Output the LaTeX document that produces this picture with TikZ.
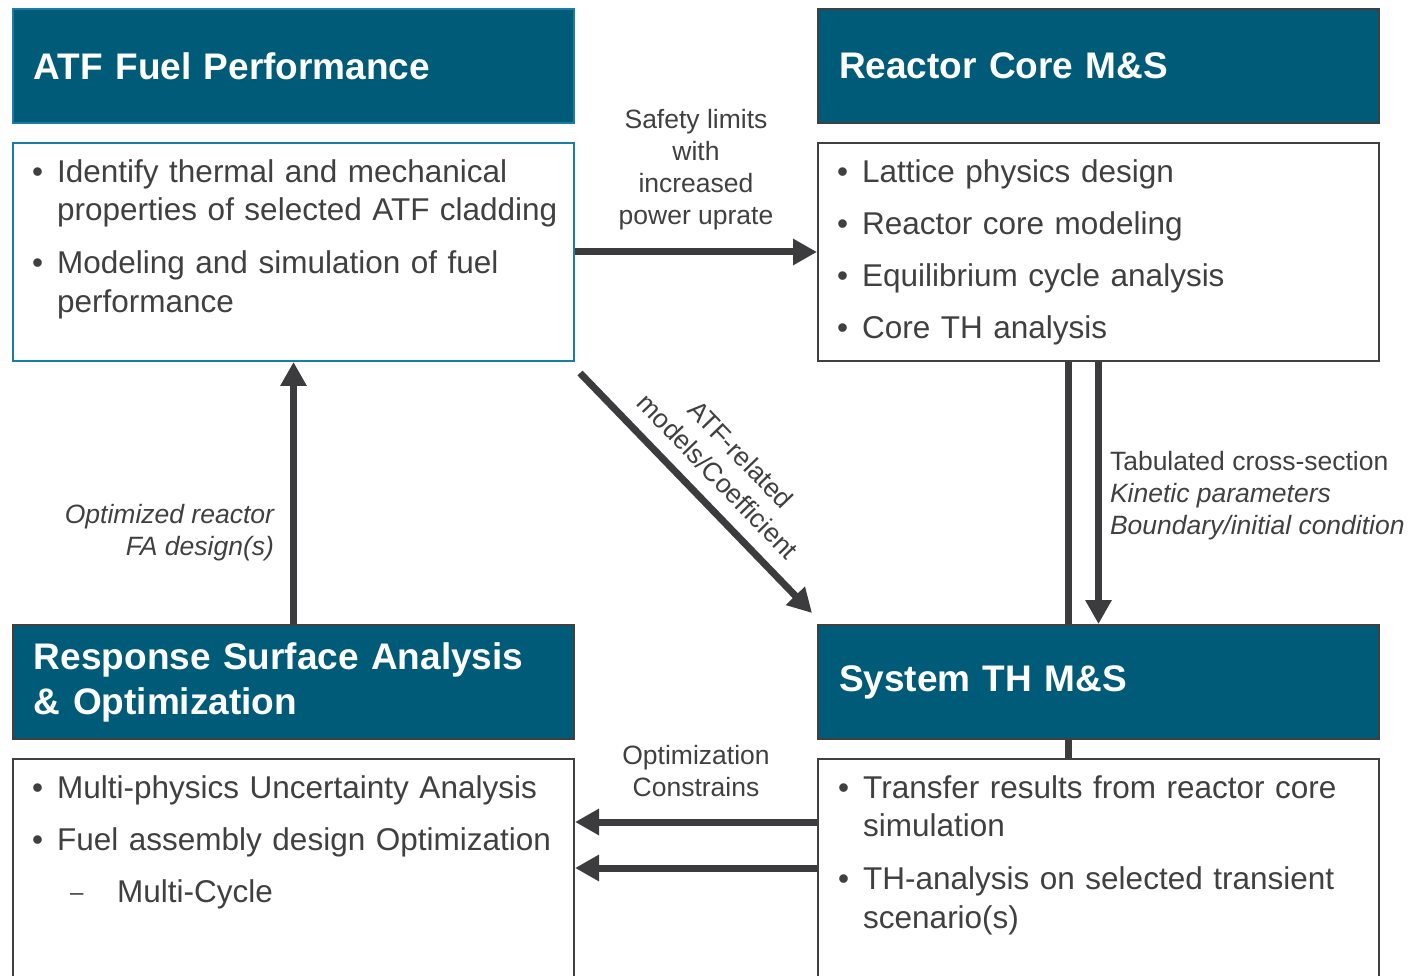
\documentclass[tikz,border=0pt]{standalone}
\usepackage{fontspec}
\setmainfont{Liberation Sans}
\usetikzlibrary{positioning,arrows.meta,backgrounds}
\definecolor{hdrblue}{RGB}{0,91,120}
\definecolor{atfedge}{RGB}{25,125,165}
\definecolor{edgegray}{RGB}{64,64,64}
\definecolor{txtgray}{RGB}{64,64,64}
\definecolor{arrowgray}{RGB}{60,60,62}
\newcommand{\bitem}[1]{\noindent\makebox[25pt][l]{\textbullet}\parbox[t]{520pt}{\strut#1\strut}\par}
\newcommand{\ditem}[1]{\noindent\hspace*{38pt}\makebox[47pt][l]{\raisebox{2pt}{\fontsize{24}{24}\selectfont –}}\strut#1\strut\par}
\newcommand{\bgap}{\vspace{13.5pt}}
\tikzset{
	hdr/.style={draw=edgegray, line width=2pt, fill=hdrblue, text=white, anchor=north west, minimum width=561pt, minimum height=114pt, text width=519pt, inner xsep=21pt, align=left, font=\fontsize{37}{45}\selectfont\bfseries},
	bodybox/.style={draw=edgegray, line width=2pt, fill=white, minimum width=561pt, minimum height=#1, inner sep=0pt},
	bodybox/.default=218pt,
	bodytxt/.style={anchor=north west, inner sep=0pt, text width=545pt, align=left, text=txtgray, font=\fontsize{31.5}{38.5}\selectfont},
	lbl/.style={text=txtgray, inner sep=0pt, align=center, font=\fontsize{26.5}{32}\selectfont},
	flow/.style={draw=arrowgray, line width=7pt, -{Triangle[length=24pt,width=25pt]}},
	link/.style={draw=arrowgray, line width=7pt}
}
\begin{document}
\begin{tikzpicture}[x=1pt, y=-1pt]
	\useasboundingbox (0,0) rectangle (1409,976);
	\clip (0,0) rectangle (1409,976);
	% headers
	\node[hdr, draw=atfedge] (atfhdr) at (12,8) {ATF Fuel Performance};
	\node[hdr] (corehdr) at (817,8) {Reactor Core M\&S};
	\node[hdr] (rsahdr) at (12,624) {Response Surface Analysis\\\& Optimization};
	\node[hdr] (syshdr) at (817,624) {System TH M\&S};
	% bodies
	\node[bodybox, draw=atfedge, below=18pt of atfhdr] (atfbody) {};
	\node[bodybox, below=18pt of corehdr] (corebody) {};
	\node[bodybox=240pt, below=18pt of rsahdr] (rsabody) {};
	\node[bodybox=240pt, below=18pt of syshdr] (sysbody) {};
	\node[bodytxt] (atftxt) at ([shift={(20pt,-13pt)}]atfbody.north west) {%
		\bitem{Identify thermal and mechanical\newline properties of selected ATF cladding}\bgap
		\bitem{Modeling and simulation of fuel\newline performance}};
	\node[bodytxt] (coretxt) at ([shift={(20pt,-13pt)}]corebody.north west) {%
		\bitem{Lattice physics design}\bgap
		\bitem{Reactor core modeling}\bgap
		\bitem{Equilibrium cycle analysis}\bgap
		\bitem{Core TH analysis}};
	\node[bodytxt] (rsatxt) at ([shift={(20pt,-13pt)}]rsabody.north west) {%
		\bitem{Multi-physics Uncertainty Analysis}\bgap
		\bitem{Fuel assembly design Optimization}\bgap
		\ditem{Multi-Cycle}};
	\node[bodytxt] (systxt) at ([shift={(21pt,-13pt)}]sysbody.north west) {%
		\bitem{Transfer results from reactor core\newline simulation}\bgap
		\bitem{TH-analysis on selected transient\newline scenario(s)}};
	% connectors
	\begin{pgfonlayer}{background}
		\draw[link] ([xshift=-30pt]corebody.south) -- ([xshift=-30pt]sysbody.north);
	\end{pgfonlayer}
	\draw[flow] (atfbody.east) -- (corebody.west)
		node[midway, above=18pt, lbl] {Safety limits\\with\\increased\\power uprate};
	\draw[flow] ([shift={(5pt,-11pt)}]atfbody.south east) -- ([shift={(-5pt,11pt)}]syshdr.north west)
		node[pos=0.51, sloped, above=14pt, lbl] {ATF-related\\models/Coefficient};
	\draw[flow] (rsahdr.north) -- (atfbody.south)
		node[pos=0.35, left=16pt, lbl, align=right, font=\fontsize{26.5}{32}\selectfont\itshape] {Optimized reactor\\FA design(s)};
	\draw[flow] (corebody.south) -- (syshdr.north)
		node[midway, yshift=-3pt, right=8pt, lbl, align=left] {Tabulated cross-section\\\textit{Kinetic parameters}\\\textit{Boundary/initial condition}};
	\draw[flow] ([yshift=-64pt]sysbody.north west) -- ([yshift=-64pt]rsabody.north east)
		node[midway, above=22pt, lbl] {Optimization\\Constrains};
	\draw[flow] ([yshift=-110pt]sysbody.north west) -- ([yshift=-110pt]rsabody.north east);
	%	\node at (700,950) {\tiny draft};
\end{tikzpicture}
\end{document}
